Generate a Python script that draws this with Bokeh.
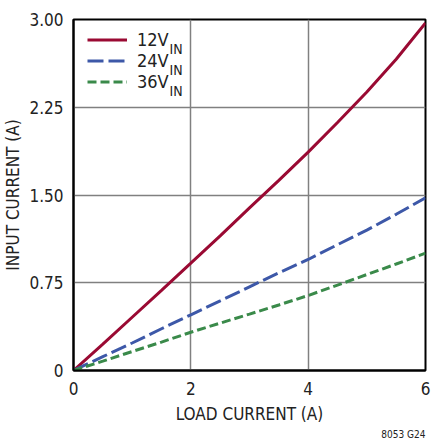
from bokeh.plotting import figure
from bokeh.models import FixedTicker, Range1d, Legend, LegendItem, Label, Title
from bokeh.embed import file_html
from bokeh.resources import INLINE

# data
load_current = [0, 0.5, 1, 1.5, 2, 2.5, 3, 3.5, 4, 4.5, 5, 5.5, 6]
in_12v = [0, 0.225, 0.455, 0.685, 0.917, 1.15, 1.39, 1.625, 1.866, 2.12, 2.38, 2.66, 2.97]
in_24v = [0, 0.118, 0.235, 0.357, 0.476, 0.595, 0.715, 0.835, 0.949, 1.075, 1.20, 1.335, 1.476]
in_36v = [0, 0.08, 0.162, 0.243, 0.327, 0.405, 0.482, 0.56, 0.641, 0.73, 0.82, 0.91, 1.003]
series_labels = ["12V", "24V", "36V"]
series_sub = ["IN", "IN", "IN"]
x_ticks = [0, 2, 4, 6]
y_ticks = [0, 0.75, 1.5, 2.25, 3.0]
y_tick_labels = ["0", "0.75", "1.50", "2.25", "3.00"]
figure_id = "8053 G24"

FONT = "'Liberation Sans Narrow', 'Arial Narrow', 'DejaVu Sans Condensed', 'Liberation Sans', sans-serif"
TXT = "#222222"

p = figure(width=439, height=440, output_backend="svg", toolbar_location=None,
           x_range=Range1d(0, 6), y_range=Range1d(0, 3))
p.min_border_left = 73
p.min_border_right = 14
p.min_border_top = 19
p.min_border_bottom = 70
p.background_fill_color = "white"
p.border_fill_color = "white"
p.outline_line_color = "black"
p.outline_line_width = 2
p.outline_line_alpha = 1

p.xaxis.ticker = FixedTicker(ticks=x_ticks)
p.yaxis.ticker = FixedTicker(ticks=y_ticks)
p.yaxis.major_label_overrides = {t: s for t, s in zip(y_ticks, y_tick_labels)}
for ax in (p.xaxis[0], p.yaxis[0]):
    ax.axis_line_color = "black"
    ax.axis_line_width = 2
    ax.major_tick_in = 0
    ax.major_tick_out = 0
    ax.minor_tick_in = 0
    ax.minor_tick_out = 0
    ax.major_label_text_font = FONT
    ax.major_label_text_font_size = "17px"
    ax.major_label_text_color = TXT
    ax.axis_label_text_font = FONT
    ax.axis_label_text_font_size = "17px"
    ax.axis_label_text_font_style = "normal"
    ax.axis_label_text_color = TXT
p.xaxis.axis_label = "LOAD CURRENT (A)"
p.yaxis.axis_label = "INPUT CURRENT (A)"
p.xaxis.major_label_standoff = 11
p.yaxis.major_label_standoff = 10
p.xaxis.axis_label_standoff = 6
p.yaxis.axis_label_standoff = 3

p.xgrid.ticker = FixedTicker(ticks=x_ticks)
p.ygrid.ticker = FixedTicker(ticks=y_ticks)
for g in (p.xgrid[0], p.ygrid[0]):
    g.grid_line_color = "#808080"
    g.grid_line_width = 1.5

r1 = p.line(load_current, in_12v, line_color="#9A0A33", line_width=3)
r2 = p.line(load_current, in_24v, line_color="#3D58A8", line_width=3, line_dash="16 5")
r3 = p.line(load_current, in_36v, line_color="#3A8A4A", line_width=3, line_dash="9 4")

legend = Legend(items=[LegendItem(label=series_labels[0], renderers=[r1]),
                       LegendItem(label=series_labels[1], renderers=[r2]),
                       LegendItem(label=series_labels[2], renderers=[r3])],
                location=(14, 278), margin=0, padding=0, spacing=0,
                glyph_width=40, glyph_height=21, label_standoff=10,
                label_text_font=FONT, label_text_font_size="18px",
                label_text_color=TXT, label_height=21,
                border_line_color=None, background_fill_alpha=0)
p.add_layout(legend)

# subscripts "IN" after the legend labels (frame-relative screen units)
for i, s in enumerate(series_sub):
    p.add_layout(Label(x=96, y=322 - 21 * i, x_units="screen", y_units="screen",
                       text=s, text_font=FONT, text_font_size="14px",
                       text_baseline="alphabetic", text_color=TXT))

p.add_layout(Title(text=figure_id, align="right", text_font=FONT, text_font_size="10px",
                   text_font_style="normal", text_color=TXT, standoff=0), "below")

open("out.html", "w").write(file_html(p, INLINE))
